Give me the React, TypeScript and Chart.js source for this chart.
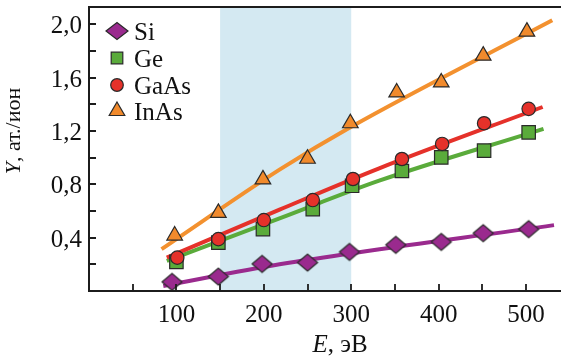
import React, { useEffect, useRef } from 'react';
import { Chart, registerables } from 'chart.js';

Chart.register(...registerables);

const FONT = '"Liberation Serif", "Times New Roman", serif';

// ---------- data ----------
const seriesNames = ['Si', 'Ge', 'GaAs', 'InAs'];

const siE = [95, 148, 198, 250, 298, 351, 403, 451, 503];
const siY = [0.068, 0.108, 0.203, 0.213, 0.293, 0.346, 0.368, 0.434, 0.464];

const geE = [100, 148, 199, 256, 301, 358, 403, 452, 503];
const geY = [0.218, 0.363, 0.464, 0.614, 0.789, 0.9, 1.002, 1.053, 1.19];

const gaasE = [101, 148, 200, 256, 302, 358, 404, 452, 503];
const gaasY = [0.25, 0.389, 0.532, 0.682, 0.84, 0.99, 1.103, 1.258, 1.366];

const inasE = [98, 148, 199, 250, 299, 352, 403, 451, 501];
const inasY = [0.416, 0.586, 0.837, 0.992, 1.258, 1.489, 1.564, 1.765, 1.945];

// fitted curves
const siFitE = [85, 218, 532];
const siFitY = [0.038, 0.2, 0.494];
const geFitE = [89, 218, 332, 520];
const geFitY = [0.226, 0.545, 0.827, 1.216];
const gaasFitE = [89, 218, 332, 519];
const gaasFitY = [0.25, 0.61, 0.92, 1.38];
const inasFitE = [83, 218, 299, 530];
const inasFitY = [0.314, 0.91, 1.228, 2.03];

const xTicks = [50, 100, 150, 200, 250, 300, 350, 400, 450, 500];
const xLabelTicks = [100, 200, 300, 400, 500];
const yTicks = [0.2, 0.4, 0.6, 0.8, 1.0, 1.2, 1.4, 1.6, 1.8, 2.0];
const yLabelTicks = [0.4, 0.8, 1.2, 1.6, 2.0];
const shadedRange = [150, 300];
const xRange = [0, 540];
const yRange = [0, 2.13];
const xTitle = ['E', ', эВ'];
const yTitle = ['Y', ', ат./ион'];

// ---------- styles ----------
const C_SI = '#9a2a8e';
const C_GE = '#5aab3b';
const C_GAAS = '#e5312a';
const C_INAS = '#f18a2c';
const C_INAS_LINE = '#f3912f';
const C_BAND = '#d4e9f2';
const C_EDGE = '#2a2a2a';
const C_AXIS = '#1c1c1c';
const C_TEXT = '#111';

const pts = (xs: number[], ys: number[]) => xs.map((x, i) => ({ x, y: ys[i] }));

function makeDiamond(hw: number, hh: number, fill: string) {
  const c = document.createElement('canvas');
  const w = Math.ceil(hw * 2 + 4);
  const h = Math.ceil(hh * 2 + 4);
  c.width = w;
  c.height = h;
  const g = c.getContext('2d')!;
  g.beginPath();
  g.moveTo(w / 2 - hw, h / 2);
  g.lineTo(w / 2, h / 2 - hh);
  g.lineTo(w / 2 + hw, h / 2);
  g.lineTo(w / 2, h / 2 + hh);
  g.closePath();
  g.fillStyle = fill;
  g.fill();
  g.lineWidth = 1.2;
  g.strokeStyle = C_EDGE;
  g.stroke();
  return c;
}

function drawLegendMarker(ctx: CanvasRenderingContext2D, kind: string, x: number, y: number, fill: string) {
  ctx.save();
  ctx.beginPath();
  if (kind === 'diamond') {
    const hw = 11, hh = 8.5;
    ctx.moveTo(x - hw, y);
    ctx.lineTo(x, y - hh);
    ctx.lineTo(x + hw, y);
    ctx.lineTo(x, y + hh);
    ctx.closePath();
  } else if (kind === 'rect') {
    const s = 5.8;
    ctx.rect(x - s, y - s, 2 * s, 2 * s);
  } else if (kind === 'circle') {
    ctx.arc(x, y, 6.3, 0, Math.PI * 2);
  } else {
    const r = 9;
    for (let k = 0; k < 3; k++) {
      const a = (k * 2 * Math.PI) / 3;
      const px = x + Math.sin(a) * r;
      const py = y - Math.cos(a) * r;
      if (k === 0) ctx.moveTo(px, py);
      else ctx.lineTo(px, py);
    }
    ctx.closePath();
  }
  ctx.fillStyle = fill;
  ctx.fill();
  ctx.lineWidth = 1.2;
  ctx.strokeStyle = C_EDGE;
  ctx.stroke();
  ctx.restore();
}

const legendKinds = ['diamond', 'rect', 'circle', 'triangle'];
const legendColors = [C_SI, C_GE, C_GAAS, C_INAS];

const fmtY = (v: number) => v.toFixed(1).replace('.', ',');

const decorPlugin = {
  id: 'decor',
  beforeDatasetsDraw(chart: any) {
    const { ctx, chartArea: a, scales } = chart;
    const x0 = scales.x.getPixelForValue(shadedRange[0]);
    const x1 = scales.x.getPixelForValue(shadedRange[1]);
    ctx.save();
    ctx.fillStyle = C_BAND;
    ctx.fillRect(x0, a.top, x1 - x0, a.bottom - a.top);
    ctx.restore();
  },
  afterDatasetsDraw(chart: any) {
    const { ctx, chartArea: a, scales } = chart;
    ctx.save();
    ctx.strokeStyle = C_AXIS;
    ctx.lineWidth = 2;
    ctx.beginPath();
    ctx.moveTo(chart.width, a.top);
    ctx.lineTo(a.left, a.top);
    ctx.lineTo(a.left, a.bottom);
    ctx.lineTo(chart.width, a.bottom);
    ctx.stroke();
    ctx.lineWidth = 1.8;
    ctx.beginPath();
    xTicks.forEach((v) => {
      const px = Math.round(scales.x.getPixelForValue(v));
      ctx.moveTo(px, a.bottom);
      ctx.lineTo(px, a.bottom - 7);
    });
    yTicks.forEach((v) => {
      const py = Math.round(scales.y.getPixelForValue(v));
      ctx.moveTo(a.left, py);
      ctx.lineTo(a.left + 7, py);
    });
    ctx.stroke();
    ctx.restore();
  },
  afterDraw(chart: any) {
    const { ctx, chartArea: a, scales } = chart;
    ctx.save();
    ctx.fillStyle = C_TEXT;
    ctx.textBaseline = 'alphabetic';

    // tick labels
    ctx.font = `25px ${FONT}`;
    ctx.textAlign = 'center';
    xLabelTicks.forEach((v) => {
      ctx.fillText(String(v), scales.x.getPixelForValue(v), a.bottom + 31);
    });
    ctx.textAlign = 'right';
    yLabelTicks.forEach((v) => {
      ctx.fillText(fmtY(v), a.left - 7, scales.y.getPixelForValue(v) + 9);
    });

    // legend
    const rows = [31, 58, 85, 111];
    ctx.textAlign = 'left';
    ctx.font = `25px ${FONT}`;
    seriesNames.forEach((name, i) => {
      drawLegendMarker(ctx, legendKinds[i], 117, rows[i], legendColors[i]);
      ctx.fillStyle = C_TEXT;
      ctx.fillText(name, 134, rows[i] + 9);
    });

    // x title
    const italic = `italic 25px ${FONT}`;
    const normal = `25px ${FONT}`;
    ctx.font = italic;
    const wE = ctx.measureText(xTitle[0]).width;
    ctx.font = normal;
    const wRest = ctx.measureText(xTitle[1]).width;
    const xc = 340;
    const startX = xc - (wE + wRest) / 2;
    ctx.font = italic;
    ctx.fillText(xTitle[0], startX, 352);
    ctx.font = normal;
    ctx.fillText(xTitle[1], startX + wE, 352);

    // y title
    const yItalic = `italic 22px ${FONT}`;
    const yNormal = `22px ${FONT}`;
    ctx.font = yItalic;
    const wY = ctx.measureText(yTitle[0]).width;
    ctx.font = yNormal;
    const wYR = ctx.measureText(yTitle[1]).width;
    ctx.translate(20, 131);
    ctx.rotate(-Math.PI / 2);
    const sx = -(wY + wYR) / 2;
    ctx.font = yItalic;
    ctx.fillText(yTitle[0], sx, 0);
    ctx.font = yNormal;
    ctx.fillText(yTitle[1], sx + wY, 0);
    ctx.restore();
  },
};

export default function App() {
  const ref = useRef<HTMLCanvasElement | null>(null);

  useEffect(() => {
    document.body.style.margin = '0';
    const canvas = ref.current!;
    const diamond = makeDiamond(10, 8.5, C_SI);

    const markerBase = {
      showLine: false,
      borderColor: C_EDGE,
      pointBorderColor: C_EDGE,
      pointBorderWidth: 1.2,
      clip: false as any,
    };
    const lineBase = {
      showLine: true,
      pointRadius: 0,
      borderWidth: 4,
      cubicInterpolationMode: 'monotone' as const,
      fill: false,
    };

    const chart = new Chart(canvas, {
      type: 'scatter',
      data: {
        datasets: [
          { ...lineBase, label: 'Si fit', data: pts(siFitE, siFitY), borderColor: C_SI, order: 6 },
          { ...lineBase, label: 'Ge fit', data: pts(geFitE, geFitY), borderColor: C_GE, order: 7 },
          { ...lineBase, label: 'GaAs fit', data: pts(gaasFitE, gaasFitY), borderColor: C_GAAS, order: 6 },
          { ...lineBase, label: 'InAs fit', data: pts(inasFitE, inasFitY), borderColor: C_INAS_LINE, order: 6 },
          {
            ...markerBase,
            label: seriesNames[0],
            data: pts(siE, siY),
            pointStyle: diamond as any,
            pointRadius: 10,
            backgroundColor: C_SI,
            order: 1,
          },
          {
            ...markerBase,
            label: seriesNames[1],
            data: pts(geE, geY),
            pointStyle: 'rect',
            pointRadius: 9.5,
            pointBackgroundColor: C_GE,
            backgroundColor: C_GE,
            order: 2,
          },
          {
            ...markerBase,
            label: seriesNames[2],
            data: pts(gaasE, gaasY),
            pointStyle: 'circle',
            pointRadius: 6.7,
            pointBackgroundColor: C_GAAS,
            backgroundColor: C_GAAS,
            order: 1,
          },
          {
            ...markerBase,
            label: seriesNames[3],
            data: pts(inasE, inasY),
            pointStyle: 'triangle',
            pointRadius: 9,
            pointBackgroundColor: C_INAS,
            backgroundColor: C_INAS,
            order: 1,
          },
        ] as any,
      },
      options: {
        animation: false,
        responsive: false,
        devicePixelRatio: 1,
        layout: { autoPadding: false, padding: { top: 7, right: 0, left: 0, bottom: 0 } },
        plugins: {
          legend: { display: false },
          tooltip: { enabled: false },
        },
        scales: {
          x: {
            type: 'linear',
            min: xRange[0],
            max: xRange[1],
            grid: { display: false, drawTicks: false },
            border: { display: false },
            ticks: { display: false },
            afterFit: (s: any) => {
              s.height = 70;
            },
          },
          y: {
            type: 'linear',
            min: yRange[0],
            max: yRange[1],
            grid: { display: false, drawTicks: false },
            border: { display: false },
            ticks: { display: false },
            afterFit: (s: any) => {
              s.width = 89;
            },
          },
        },
      } as any,
      plugins: [decorPlugin],
    });

    return () => chart.destroy();
  }, []);

  return (
    <div style={{ width: 561, height: 361, position: 'relative', background: '#fff' }}>
      <canvas ref={ref} width={561} height={361} style={{ display: 'block' }} />
    </div>
  );
}
